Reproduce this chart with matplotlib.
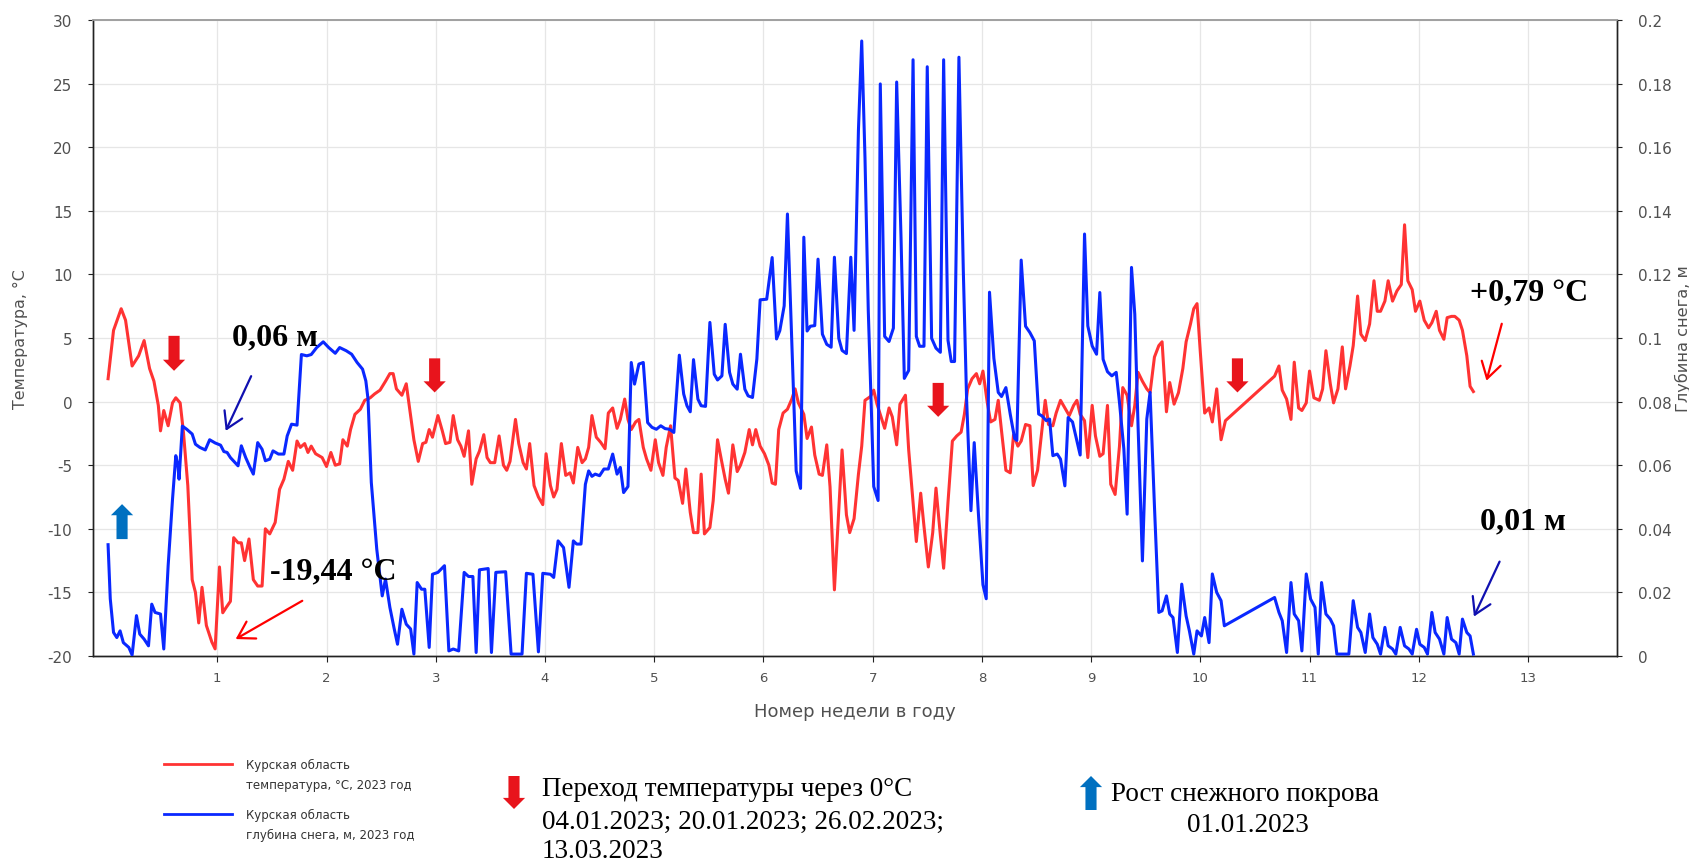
import matplotlib
matplotlib.use('Agg')
import matplotlib.pyplot as plt
from matplotlib.lines import Line2D
from matplotlib.ticker import FuncFormatter

plt.rcParams['axes.unicode_minus'] = False
plt.rcParams['font.family'] = ['DejaVu Sans']

# ---------------- data ----------------
red_weeks = [0.00, 0.05, 0.12, 0.16, 0.22, 0.28, 0.33, 0.38, 0.42, 0.46, 0.48, 0.51, 0.55, 0.59, 0.62, 0.66,
             0.69, 0.73, 0.77, 0.80, 0.83, 0.86, 0.90, 0.95, 0.98, 1.02, 1.05, 1.08, 1.12, 1.15, 1.19, 1.22,
             1.25, 1.29, 1.33, 1.37, 1.41, 1.44, 1.48, 1.53, 1.57, 1.61, 1.65, 1.69, 1.73, 1.76, 1.80, 1.83,
             1.86, 1.90, 1.96, 2.00, 2.04, 2.08, 2.12, 2.15, 2.19, 2.22, 2.26, 2.31, 2.35, 2.40, 2.44, 2.49,
             2.54, 2.58, 2.61, 2.64, 2.69, 2.73, 2.77, 2.80, 2.84, 2.88, 2.91, 2.94, 2.97, 3.02, 3.06, 3.09,
             3.13, 3.16, 3.20, 3.23, 3.26, 3.30, 3.33, 3.37, 3.40, 3.44, 3.47, 3.50, 3.54, 3.58, 3.62, 3.65,
             3.68, 3.73, 3.76, 3.80, 3.83, 3.86, 3.90, 3.94, 3.98, 4.01, 4.05, 4.08, 4.11, 4.15, 4.19, 4.23,
             4.26, 4.30, 4.34, 4.37, 4.40, 4.43, 4.47, 4.51, 4.55, 4.58, 4.62, 4.66, 4.69, 4.73, 4.76, 4.79,
             4.83, 4.86, 4.90, 4.93, 4.97, 5.01, 5.04, 5.08, 5.11, 5.15, 5.19, 5.22, 5.26, 5.29, 5.33, 5.36,
             5.40, 5.43, 5.46, 5.51, 5.54, 5.58, 5.62, 5.65, 5.68, 5.72, 5.76, 5.79, 5.83, 5.87, 5.90, 5.93,
             5.97, 6.01, 6.05, 6.08, 6.11, 6.14, 6.18, 6.22, 6.26, 6.29, 6.32, 6.37, 6.40, 6.44, 6.47, 6.51,
             6.54, 6.58, 6.61, 6.65, 6.69, 6.72, 6.76, 6.79, 6.83, 6.87, 6.90, 6.93, 6.98, 7.01, 7.04, 7.08,
             7.11, 7.15, 7.18, 7.22, 7.25, 7.30, 7.33, 7.37, 7.40, 7.44, 7.47, 7.51, 7.55, 7.58, 7.62, 7.65,
             7.69, 7.73, 7.77, 7.81, 7.84, 7.87, 7.91, 7.95, 7.98, 8.01, 8.05, 8.08, 8.12, 8.15, 8.18, 8.22,
             8.26, 8.29, 8.33, 8.36, 8.40, 8.44, 8.47, 8.51, 8.54, 8.58, 8.61, 8.65, 8.68, 8.72, 8.76, 8.80,
             8.84, 8.87, 8.90, 8.94, 8.97, 9.01, 9.04, 9.08, 9.11, 9.15, 9.18, 9.22, 9.26, 9.29, 9.33, 9.37,
             9.40, 9.43, 9.47, 9.51, 9.54, 9.58, 9.62, 9.65, 9.69, 9.72, 9.76, 9.80, 9.84, 9.87, 9.91, 9.94,
             9.97, 10.00, 10.04, 10.08, 10.11, 10.15, 10.19, 10.23, 10.68, 10.72, 10.75, 10.79, 10.83, 10.86,
             10.90, 10.93, 10.97, 11.00, 11.04, 11.09, 11.12, 11.15, 11.19, 11.22, 11.26, 11.30, 11.33, 11.37,
             11.40, 11.44, 11.47, 11.51, 11.55, 11.59, 11.62, 11.65, 11.69, 11.72, 11.76, 11.80, 11.84, 11.87,
             11.90, 11.94, 11.97, 12.01, 12.05, 12.09, 12.12, 12.16, 12.19, 12.23, 12.26, 12.30, 12.33, 12.37,
             12.40, 12.44, 12.47, 12.50]
red_temp = [1.8, 5.6, 7.3, 6.4, 2.8, 3.6, 4.8, 2.6, 1.6, -0.3, -2.3, -0.7, -1.9, -0.1, 0.3, -0.1,
            -2.4, -6.6, -14.0, -15.0, -17.4, -14.6, -17.6, -18.9, -19.44, -13.0, -16.6, -16.2, -15.7, -10.7, -11.1, -11.1,
            -12.5, -10.8, -14.0, -14.5, -14.5, -10.0, -10.4, -9.5, -6.9, -6.1, -4.7, -5.4, -3.1, -3.6, -3.3, -4.0,
            -3.5, -4.1, -4.4, -5.1, -4.0, -5.0, -4.9, -3.0, -3.5, -2.2, -1.0, -0.6, 0.1, 0.3, 0.6, 0.9,
            1.6, 2.2, 2.2, 1.0, 0.5, 1.4, -1.1, -3.0, -4.7, -3.3, -3.2, -2.2, -2.8, -1.1, -2.3, -3.3,
            -3.2, -1.1, -3.0, -3.5, -4.3, -2.3, -6.5, -4.5, -3.9, -2.6, -4.4, -4.8, -4.8, -2.7, -5.0, -5.4,
            -4.7, -1.4, -3.3, -4.8, -5.3, -3.3, -6.6, -7.5, -8.1, -4.1, -6.6, -7.5, -6.9, -3.3, -5.8, -5.6,
            -6.4, -3.6, -4.8, -4.5, -3.6, -1.1, -2.8, -3.2, -3.7, -0.9, -0.5, -2.1, -1.4, 0.2, -1.4, -2.2,
            -1.6, -1.4, -3.6, -4.5, -5.4, -3.0, -4.8, -5.8, -3.6, -1.9, -6.0, -6.2, -8.0, -5.3, -8.7, -10.3,
            -10.3, -5.7, -10.4, -9.9, -7.8, -3.0, -4.8, -6.1, -7.2, -3.4, -5.5, -5.0, -4.0, -2.2, -3.4, -2.2,
            -3.5, -4.1, -5.0, -6.4, -6.5, -2.2, -0.9, -0.6, 0.2, 1.0, -0.1, -1.0, -2.9, -2.0, -4.2, -5.7,
            -5.8, -3.4, -6.7, -14.8, -8.6, -3.8, -8.9, -10.3, -9.2, -5.7, -3.5, 0.1, 0.4, 0.9, -0.2, -1.3,
            -2.1, -0.5, -1.2, -3.4, -0.2, 0.5, -3.8, -7.9, -11.0, -7.2, -9.8, -13.0, -10.3, -6.8, -10.5, -13.1,
            -7.9, -3.1, -2.7, -2.4, -1.0, 1.0, 1.8, 2.2, 1.4, 2.4, -0.1, -1.6, -1.4, 0.1, -2.3, -5.4,
            -5.6, -2.6, -3.5, -3.1, -1.8, -1.9, -6.6, -5.4, -3.0, 0.1, -1.8, -1.9, -0.9, 0.1, -0.5, -1.1,
            -0.3, 0.1, -1.0, -1.5, -4.4, -0.3, -2.7, -4.3, -4.1, -0.3, -6.5, -7.3, -3.5, 1.1, 0.5, -1.9,
            -0.3, 2.3, 1.6, 1.0, 0.7, 3.5, 4.4, 4.7, -0.8, 1.5, -0.2, 0.7, 2.6, 4.7, 6.1, 7.3,
            7.7, 3.9, -0.9, -0.5, -1.6, 1.0, -3.0, -1.5, 2.0, 2.8, 0.9, 0.2, -1.4, 3.1,
            -0.5, -0.7, -0.1, 2.4, 0.3, 0.1, 1.0, 4.0, 1.4, -0.1, 1.0, 4.3, 1.0, 2.8,
            4.4, 8.3, 5.3, 4.8, 6.1, 9.5, 7.1, 7.1, 7.9, 9.5, 7.9, 8.7, 9.2, 13.9,
            9.5, 8.8, 7.1, 7.9, 6.4, 5.8, 6.2, 7.1, 5.6, 4.9, 6.6, 6.7, 6.7, 6.4,
            5.6, 3.6, 1.2, 0.79]

blue_weeks = [0.00, 0.02, 0.05, 0.08, 0.11, 0.14, 0.19, 0.22, 0.26, 0.29, 0.33, 0.37, 0.40, 0.43, 0.48, 0.51,
              0.55, 0.59, 0.62, 0.64, 0.65, 0.68, 0.72, 0.77, 0.80, 0.84, 0.89, 0.93, 0.98, 1.03, 1.06, 1.09,
              1.12, 1.16, 1.19, 1.22, 1.26, 1.30, 1.33, 1.37, 1.41, 1.44, 1.48, 1.51, 1.56, 1.61, 1.64, 1.68,
              1.73, 1.77, 1.82, 1.86, 1.91, 1.97, 2.02, 2.08, 2.12, 2.18, 2.23, 2.28, 2.33, 2.36, 2.38, 2.41,
              2.46, 2.51, 2.54, 2.58, 2.62, 2.65, 2.69, 2.73, 2.77, 2.80, 2.83, 2.87, 2.90, 2.94, 2.97, 3.02,
              3.08, 3.12, 3.16, 3.21, 3.26, 3.30, 3.34, 3.37, 3.40, 3.48, 3.51, 3.55, 3.64, 3.69, 3.79, 3.83,
              3.89, 3.94, 3.98, 4.05, 4.08, 4.12, 4.17, 4.22, 4.26, 4.29, 4.33, 4.37, 4.40, 4.43, 4.46, 4.50,
              4.54, 4.58, 4.62, 4.66, 4.69, 4.72, 4.76, 4.79, 4.82, 4.86, 4.90, 4.94, 4.98, 5.02, 5.06, 5.10,
              5.14, 5.18, 5.23, 5.27, 5.30, 5.33, 5.36, 5.40, 5.43, 5.47, 5.51, 5.55, 5.58, 5.62, 5.65, 5.69,
              5.72, 5.76, 5.79, 5.83, 5.86, 5.90, 5.94, 5.97, 6.03, 6.08, 6.12, 6.15, 6.19, 6.22, 6.30, 6.34,
              6.37, 6.40, 6.43, 6.47, 6.50, 6.54, 6.58, 6.62, 6.65, 6.69, 6.72, 6.76, 6.80, 6.83, 6.87, 6.90,
              6.93, 6.96, 7.01, 7.05, 7.07, 7.11, 7.15, 7.19, 7.22, 7.26, 7.29, 7.33, 7.37, 7.40, 7.43, 7.47,
              7.50, 7.54, 7.58, 7.62, 7.65, 7.69, 7.72, 7.75, 7.79, 7.83, 7.86, 7.90, 7.93, 7.97, 8.01, 8.04,
              8.07, 8.11, 8.15, 8.18, 8.22, 8.26, 8.30, 8.32, 8.36, 8.40, 8.44, 8.48, 8.52, 8.55, 8.59, 8.62,
              8.65, 8.69, 8.72, 8.76, 8.79, 8.83, 8.87, 8.90, 8.94, 8.97, 9.01, 9.05, 9.08, 9.11, 9.15, 9.19,
              9.23, 9.26, 9.30, 9.33, 9.37, 9.40, 9.43, 9.47, 9.51, 9.54, 9.58, 9.62, 9.65, 9.69, 9.72, 9.75,
              9.79, 9.83, 9.87, 9.90, 9.94, 9.97, 10.01, 10.04, 10.08, 10.11, 10.15, 10.19, 10.22, 10.68,
              10.72, 10.75, 10.79, 10.83, 10.86, 10.90, 10.93, 10.97, 11.01, 11.05, 11.08, 11.11, 11.15, 11.19,
              11.22, 11.25, 11.36, 11.40, 11.44, 11.47, 11.51, 11.55, 11.58, 11.62, 11.65, 11.69, 11.72, 11.76,
              11.79, 11.83, 11.87, 11.91, 11.94, 11.98, 12.01, 12.05, 12.08, 12.12, 12.15, 12.19, 12.23, 12.26,
              12.30, 12.34, 12.37, 12.40, 12.44, 12.47, 12.50]
blue_depth = [0.035, 0.018, 0.0074, 0.0058, 0.0079, 0.0042, 0.0027, 0.0003, 0.0127, 0.0069, 0.0053, 0.0032, 0.0163, 0.0137, 0.0132, 0.0022,
              0.0284, 0.0493, 0.063, 0.0598, 0.0556, 0.0723, 0.0713, 0.0698, 0.0666, 0.0656, 0.0648, 0.068, 0.067, 0.0663, 0.0643, 0.064,
              0.0624, 0.0609, 0.0598, 0.0661, 0.0624, 0.0593, 0.0572, 0.0671, 0.065, 0.0614, 0.0619, 0.0645, 0.0635, 0.0635, 0.0692, 0.0729,
              0.0726, 0.0948, 0.0944, 0.0948, 0.097, 0.0988, 0.097, 0.0952, 0.097, 0.096, 0.0949, 0.0923, 0.0902, 0.0865, 0.0808, 0.0546,
              0.0336, 0.0189, 0.0242, 0.0153, 0.0085, 0.0037, 0.0147, 0.0100, 0.0085, 0.0006, 0.0231, 0.0210, 0.0210, 0.0027, 0.0257, 0.0263,
              0.0284, 0.0016, 0.0022, 0.0016, 0.0263, 0.0250, 0.0250, 0.0011, 0.0271, 0.0275, 0.0011, 0.0263, 0.0265, 0.0006, 0.0006, 0.0260,
              0.0257, 0.0013, 0.0260, 0.0257, 0.0247, 0.0362, 0.0341, 0.0216, 0.0362, 0.0352, 0.0352, 0.054, 0.0582, 0.0565, 0.0572, 0.0567,
              0.0588, 0.0588, 0.0635, 0.0572, 0.0593, 0.0514, 0.0533, 0.0923, 0.0855, 0.0918, 0.0923, 0.0734, 0.0719, 0.0713, 0.0724, 0.0715,
              0.0713, 0.0703, 0.0946, 0.0824, 0.0787, 0.0768, 0.0932, 0.0808, 0.0787, 0.0785, 0.1049, 0.0886, 0.0868, 0.0881, 0.1043, 0.0892,
              0.0855, 0.0839, 0.0949, 0.0839, 0.0818, 0.0813, 0.0934, 0.112, 0.1122, 0.1253, 0.0997, 0.1023, 0.1101, 0.139, 0.0582, 0.0527,
              0.1317, 0.1022, 0.1037, 0.1039, 0.1248, 0.1012, 0.098, 0.0971, 0.1254, 0.0999, 0.0961, 0.0951, 0.1254, 0.1024, 0.1654, 0.1934,
              0.1566, 0.1087, 0.0533, 0.0489, 0.1799, 0.1005, 0.0989, 0.1031, 0.1805, 0.1314, 0.0873, 0.0898, 0.1875, 0.1005, 0.0974, 0.0974,
              0.1853, 0.0999, 0.0968, 0.0955, 0.1875, 0.0993, 0.0926, 0.0926, 0.1883, 0.1213, 0.081, 0.0457, 0.0671, 0.0438, 0.0224, 0.018,
              0.1144, 0.0936, 0.0829, 0.0816, 0.0844, 0.076, 0.0684, 0.0678, 0.1245, 0.1037, 0.1017, 0.0991, 0.0761, 0.0755, 0.074, 0.0745,
              0.063, 0.0635, 0.0619, 0.0535, 0.075, 0.0736, 0.0677, 0.0632, 0.1327, 0.1038, 0.0975, 0.0949, 0.1143, 0.0933, 0.0894, 0.0881,
              0.0892, 0.0797, 0.0651, 0.0446, 0.1222, 0.1075, 0.0724, 0.0299, 0.0745, 0.0829, 0.0472, 0.0137, 0.0142, 0.0189, 0.0132, 0.0121,
              0.0011, 0.0226, 0.0126, 0.0079, 0.0006, 0.0079, 0.0063, 0.0121, 0.0042, 0.0258, 0.020, 0.0174, 0.0095, 0.0184,
              0.0137, 0.0111, 0.0011, 0.0231, 0.0132, 0.0111, 0.0016, 0.0258, 0.0179, 0.0153, 0.0006, 0.0231, 0.0132, 0.0116,
              0.0095, 0.0006, 0.0006, 0.0174, 0.009, 0.0074, 0.0011, 0.0132, 0.0058, 0.0037, 0.0006, 0.009, 0.0032, 0.0022,
              0.0006, 0.009, 0.0032, 0.0022, 0.0006, 0.0084, 0.0037, 0.0027, 0.0006, 0.0137, 0.0074, 0.0053, 0.0006, 0.0121,
              0.0053, 0.0042, 0.0006, 0.0116, 0.0074, 0.0063, 0.0006]

week_ticks = list(range(1, 14))
temp_ticks = list(range(-20, 31, 5))
depth_ticks = [0, 0.02, 0.04, 0.06, 0.08, 0.1, 0.12, 0.14, 0.16, 0.18, 0.2]

red_label = 'Курская область\nтемпература, °С, 2023 год'
blue_label = 'Курская область\nглубина снега, м, 2023 год'

# ---------------- figure ----------------
W, H = 1690, 862
fig = plt.figure(figsize=(W / 100, H / 100), dpi=100)
fig.patch.set_facecolor('white')

L, R, T, B = 93, 1617, 21, 657
ax = fig.add_axes([L / W, 1 - B / H, (R - L) / W, (B - T) / H])
ax2 = ax.twinx()

RED = '#ff3333'
BLUE = '#0a28ff'
TICKC = '#505050'

ax.plot(red_weeks, red_temp, color=RED, lw=2.2, solid_joinstyle='round', zorder=3)
ax2.plot(blue_weeks, blue_depth, color=BLUE, lw=2.2, solid_joinstyle='round', zorder=3)

ax.set_xlim(-0.138, 13.815)
ax.set_ylim(-20, 30)
ax2.set_ylim(0, 0.2)
ax.set_xticks(week_ticks)
ax.set_yticks(temp_ticks)
ax2.set_yticks(depth_ticks)
ax2.yaxis.set_major_formatter(FuncFormatter(lambda v, p: '%g' % round(v, 2)))

ax.grid(True, color='#e6e6e6', lw=0.9)
ax.set_axisbelow(True)

for a in (ax, ax2):
    for side in ('left', 'bottom', 'right'):
        a.spines[side].set_color('#222222')
        a.spines[side].set_linewidth(1.0)
    a.spines['top'].set_color('#a0a0a0')
    a.spines['top'].set_linewidth(1.2)

ax.tick_params(axis='y', direction='out', length=3.8, width=0.8, pad=11, labelsize=11, colors=TICKC)
ax.tick_params(axis='x', direction='out', length=4.3, width=0.8, pad=6.5, labelsize=9.5, colors=TICKC)
ax2.tick_params(axis='y', direction='out', length=3.8, width=0.8, pad=11, labelsize=11, colors=TICKC)
for a in (ax, ax2):
    a.tick_params(axis='both', color='#222222')

ax.set_ylabel('Температура, °С', fontsize=11.4, color=TICKC, va='center')
ax.yaxis.set_label_coords(-0.0476, 0.5)
ax2.set_ylabel('Глубина снега, м', fontsize=11.6, color=TICKC, va='center', rotation=90)
ax2.yaxis.set_label_coords(1.0433, 0.5)
ax.set_xlabel('Номер недели в году', fontsize=13, color=TICKC, va='center')
ax.xaxis.set_label_coords(0.5, -0.0865)

# ---------------- annotations inside the plot ----------------
SERIF = 'Liberation Serif'
ax2.set_zorder(ax.get_zorder() + 1)

def ann_text(x, y, s):
    ax2.text(x, y, s, fontsize=23, fontweight='bold', family=SERIF, color='black',
             ha='left', va='baseline', zorder=6, transform=ax.transData)

ann_text(1.135, 4.52, '0,06 м')
ann_text(1.482, -13.95, '-19,44 °С')
ann_text(12.47, 7.98, '+0,79 °С')
ann_text(12.56, -9.95, '0,01 м')

def thin_arrow(tail, tip, color):
    ax2.annotate('', xy=tip, xytext=tail, xycoords=ax.transData, textcoords=ax.transData,
                 arrowprops=dict(arrowstyle='->,head_length=1.15,head_width=0.7', mutation_scale=10,
                                 color=color, lw=1.6, shrinkA=0, shrinkB=0), zorder=6)

NAVY = '#1010b0'
thin_arrow((1.31, 2.0), (1.077, -2.3), NAVY)
thin_arrow((1.778, -15.66), (1.168, -18.67), '#ff0000')
thin_arrow((12.76, 6.12), (12.62, 1.64), '#ff0000')
thin_arrow((12.74, -12.58), (12.505, -16.9), NAVY)

BRED = '#e8141c'
BBLUE = '#0070c0'
BLOCK = 'simple,head_length=8,head_width=16,tail_width=8'

def block_arrow(tail, tip, color, coords):
    ax2.annotate('', xy=tip, xytext=tail, xycoords=coords, textcoords=coords,
                 arrowprops=dict(arrowstyle=BLOCK, mutation_scale=1, color=color, lw=0,
                                 shrinkA=0, shrinkB=0), zorder=7, annotation_clip=False)

for xw, top, tip in [(0.604, 5.17, 2.42), (2.99, 3.40, 0.72), (7.60, 1.47, -1.20), (10.34, 3.40, 0.72)]:
    block_arrow((xw, top), (xw, tip), BRED, ax.transData)
block_arrow((0.128, -10.81), (0.128, -8.06), BBLUE, ax.transData)

# ---------------- legend (below the plot) ----------------
def fx(px):
    return px / W

def fy(py):
    return 1 - py / H

for yline, col, lab in [(765, RED, red_label), (815, BLUE, blue_label)]:
    fig.add_artist(Line2D([fx(164), fx(232)], [fy(yline), fy(yline)], color=col, lw=2.0,
                          transform=fig.transFigure))
    l1, l2 = lab.split('\n')
    fig.text(fx(246), fy(yline), l1, fontsize=8.5, color='#333333', ha='left', va='center')
    fig.text(fx(246), fy(yline + 20), l2, fontsize=8.5, color='#333333', ha='left', va='center')

# ---------------- notes below ----------------
NOTE = dict(family=SERIF, fontsize=19.5, color='black', va='center')
fig.text(fx(542), fy(790), 'Переход температуры через 0°С', ha='left', **NOTE)
fig.text(fx(542), fy(822), '04.01.2023; 20.01.2023; 26.02.2023;', ha='left', **NOTE)
fig.text(fx(542), fy(852), '13.03.2023', ha='left', **NOTE)
fig.text(fx(1111), fy(795), 'Рост снежного покрова', ha='left', **NOTE)
fig.text(fx(1248), fy(826), '01.01.2023', ha='center', **NOTE)

block_arrow((fx(514), fy(777)), (fx(514), fy(810)), BRED, 'figure fraction')
block_arrow((fx(1091), fy(811)), (fx(1091), fy(777)), BBLUE, 'figure fraction')

fig.savefig('out.png', dpi=100, facecolor='white')
